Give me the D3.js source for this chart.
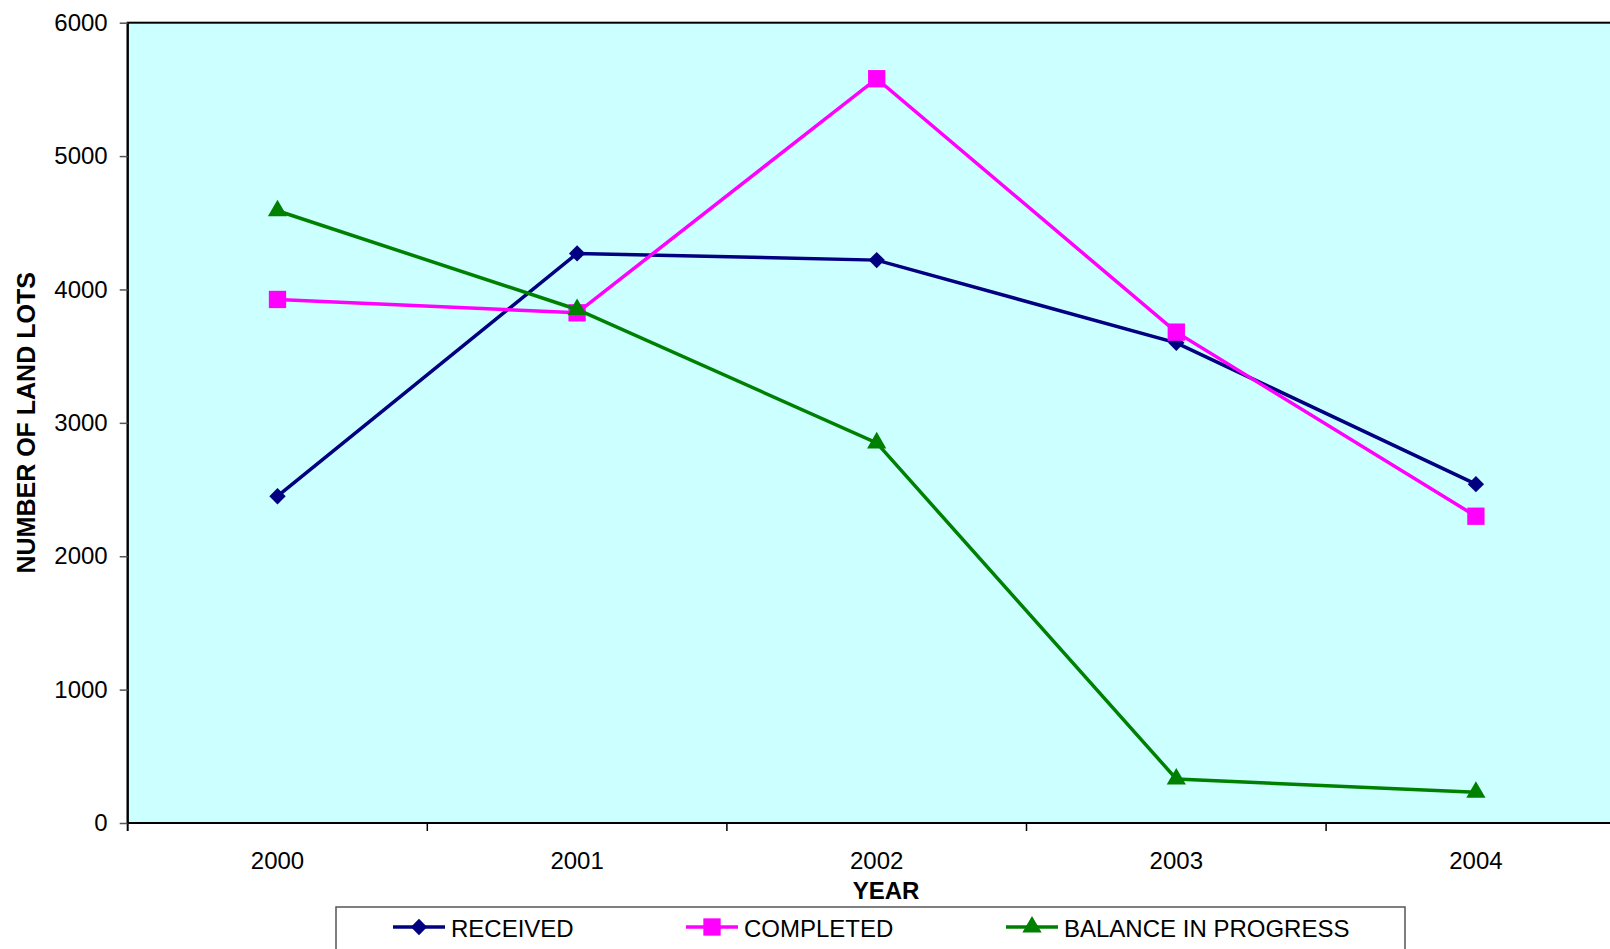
<!DOCTYPE html>
<html lang="en">
<head>
    <meta charset="UTF-8">
    <title>Land Lots by Year</title>
    <style>
        body {
            margin: 0;
            padding: 0;
            overflow: hidden;
            background: #fff;
            font-family: "Liberation Sans", Arial, sans-serif;
        }
        .line {
            fill: none;
            stroke-width: 3.5px;
        }
        .tick-label {
            font-size: 24px;
            fill: #000;
        }
        .axis-title {
            font-size: 24px;
            font-weight: bold;
            fill: #000;
        }
        .legend-label {
            font-size: 24px;
            fill: #000;
        }
    </style>
</head>
<body>
    <svg id="chart"></svg>

    <script src="https://d3js.org/d3.v7.min.js"></script>
    <script>
        // data
        const years = ["2000", "2001", "2002", "2003", "2004"];
        const received = [2450, 4270, 4220, 3600, 2540];
        const completed = [3925, 3825, 5580, 3680, 2300];
        const balance = [4590, 3850, 2850, 330, 230];
        const yTicks = [0, 1000, 2000, 3000, 4000, 5000, 6000];
        const seriesNames = ["RECEIVED", "COMPLETED", "BALANCE IN PROGRESS"];

        const W = 1610, H = 949;
        const margin = {top: 22.7, left: 127.7};
        const plotH = 800.3;
        const bandW = 299.6;
        const plotW = bandW * years.length; // runs off the right edge, like the original

        const svg = d3.select("#chart")
            .attr("width", W)
            .attr("height", H);

        const x = d3.scaleBand()
            .domain(years)
            .range([margin.left, margin.left + plotW])
            .padding(0);

        const y = d3.scaleLinear()
            .domain([0, 6000])
            .range([margin.top + plotH, margin.top]);

        const series = [
            {name: seriesNames[0], values: received, color: "#000080", marker: d3.symbolDiamond2},
            {name: seriesNames[1], values: completed, color: "#FF00FF", marker: d3.symbolSquare},
            {name: seriesNames[2], values: balance, color: "#008000", marker: d3.symbolTriangle}
        ];

        // plot background
        svg.append("rect")
            .attr("x", x.range()[0])
            .attr("y", y(6000))
            .attr("width", plotW)
            .attr("height", plotH)
            .attr("fill", "#CCFFFF")
            .attr("stroke", "#000")
            .attr("stroke-width", 2);

        // y axis
        const yAxis = d3.axisLeft(y)
            .tickValues(yTicks)
            .tickSize(8)
            .tickPadding(12)
            .tickFormat(d3.format("d"));

        const gy = svg.append("g")
            .attr("transform", `translate(${margin.left},0)`)
            .call(yAxis);
        gy.select(".domain").attr("stroke", "#000").attr("stroke-width", 2)
            .attr("d", `M0,${y(6000)}V${y(0) + 8}`);
        gy.selectAll(".tick line").attr("stroke", "#555").attr("stroke-width", 1.5);
        gy.selectAll(".tick text").attr("class", "tick-label")
            .attr("font-family", null).attr("font-size", null);

        // x axis (ticks at band edges, labels centred)
        const gx = svg.append("g")
            .attr("transform", `translate(0,${y(0)})`);
        gx.append("line")
            .attr("x1", margin.left).attr("x2", margin.left + plotW)
            .attr("stroke", "#000").attr("stroke-width", 2);
        gx.selectAll(".xtick")
            .data(years.slice(1))
            .enter().append("line")
            .attr("class", "xtick")
            .attr("x1", d => x(d)).attr("x2", d => x(d))
            .attr("y1", 0).attr("y2", 8)
            .attr("stroke", "#000").attr("stroke-width", 1.5);
        gx.selectAll(".xlabel")
            .data(years)
            .enter().append("text")
            .attr("class", "tick-label")
            .attr("x", d => x(d) + x.bandwidth() / 2)
            .attr("y", 46)
            .attr("text-anchor", "middle")
            .text(d => d);

        // axis titles
        svg.append("text")
            .attr("class", "axis-title")
            .attr("x", 886)
            .attr("y", 899)
            .attr("text-anchor", "middle")
            .text("YEAR");

        svg.append("text")
            .attr("class", "axis-title")
            .style("font-size", "25px")
            .attr("transform", `translate(35,${margin.top + plotH / 2}) rotate(-90)`)
            .attr("text-anchor", "middle")
            .text("NUMBER OF LAND LOTS");

        // lines + markers
        const line = d3.line()
            .x((d, i) => x(years[i]) + x.bandwidth() / 2)
            .y(d => y(d));

        const symbolSize = {"RECEIVED": 170, "COMPLETED": 300, "BALANCE IN PROGRESS": 160};

        series.forEach(s => {
            svg.append("path")
                .attr("class", "line")
                .attr("stroke", s.color)
                .attr("d", line(s.values));

            svg.selectAll(null)
                .data(s.values)
                .enter().append("path")
                .attr("transform", (d, i) => `translate(${x(years[i]) + x.bandwidth() / 2},${y(d)})`)
                .attr("d", d3.symbol().type(s.marker).size(symbolSize[s.name]))
                .attr("fill", s.color);
        });

        // legend
        const legend = svg.append("g");
        legend.append("rect")
            .attr("x", 336).attr("y", 907)
            .attr("width", 1069).attr("height", 70)
            .attr("fill", "#fff")
            .attr("stroke", "#555").attr("stroke-width", 1.5);

        const legendX = [393, 686, 1006];
        series.forEach((s, i) => {
            const g = legend.append("g").attr("transform", `translate(${legendX[i]},927)`);
            g.append("line")
                .attr("x1", 0).attr("x2", 52)
                .attr("stroke", s.color).attr("stroke-width", 3.5);
            g.append("path")
                .attr("transform", "translate(26,0)")
                .attr("d", d3.symbol().type(s.marker).size(symbolSize[s.name]))
                .attr("fill", s.color);
            g.append("text")
                .attr("class", "legend-label")
                .attr("x", 58)
                .attr("y", 10)
                .text(s.name);
        });
    </script>
</body>
</html>
